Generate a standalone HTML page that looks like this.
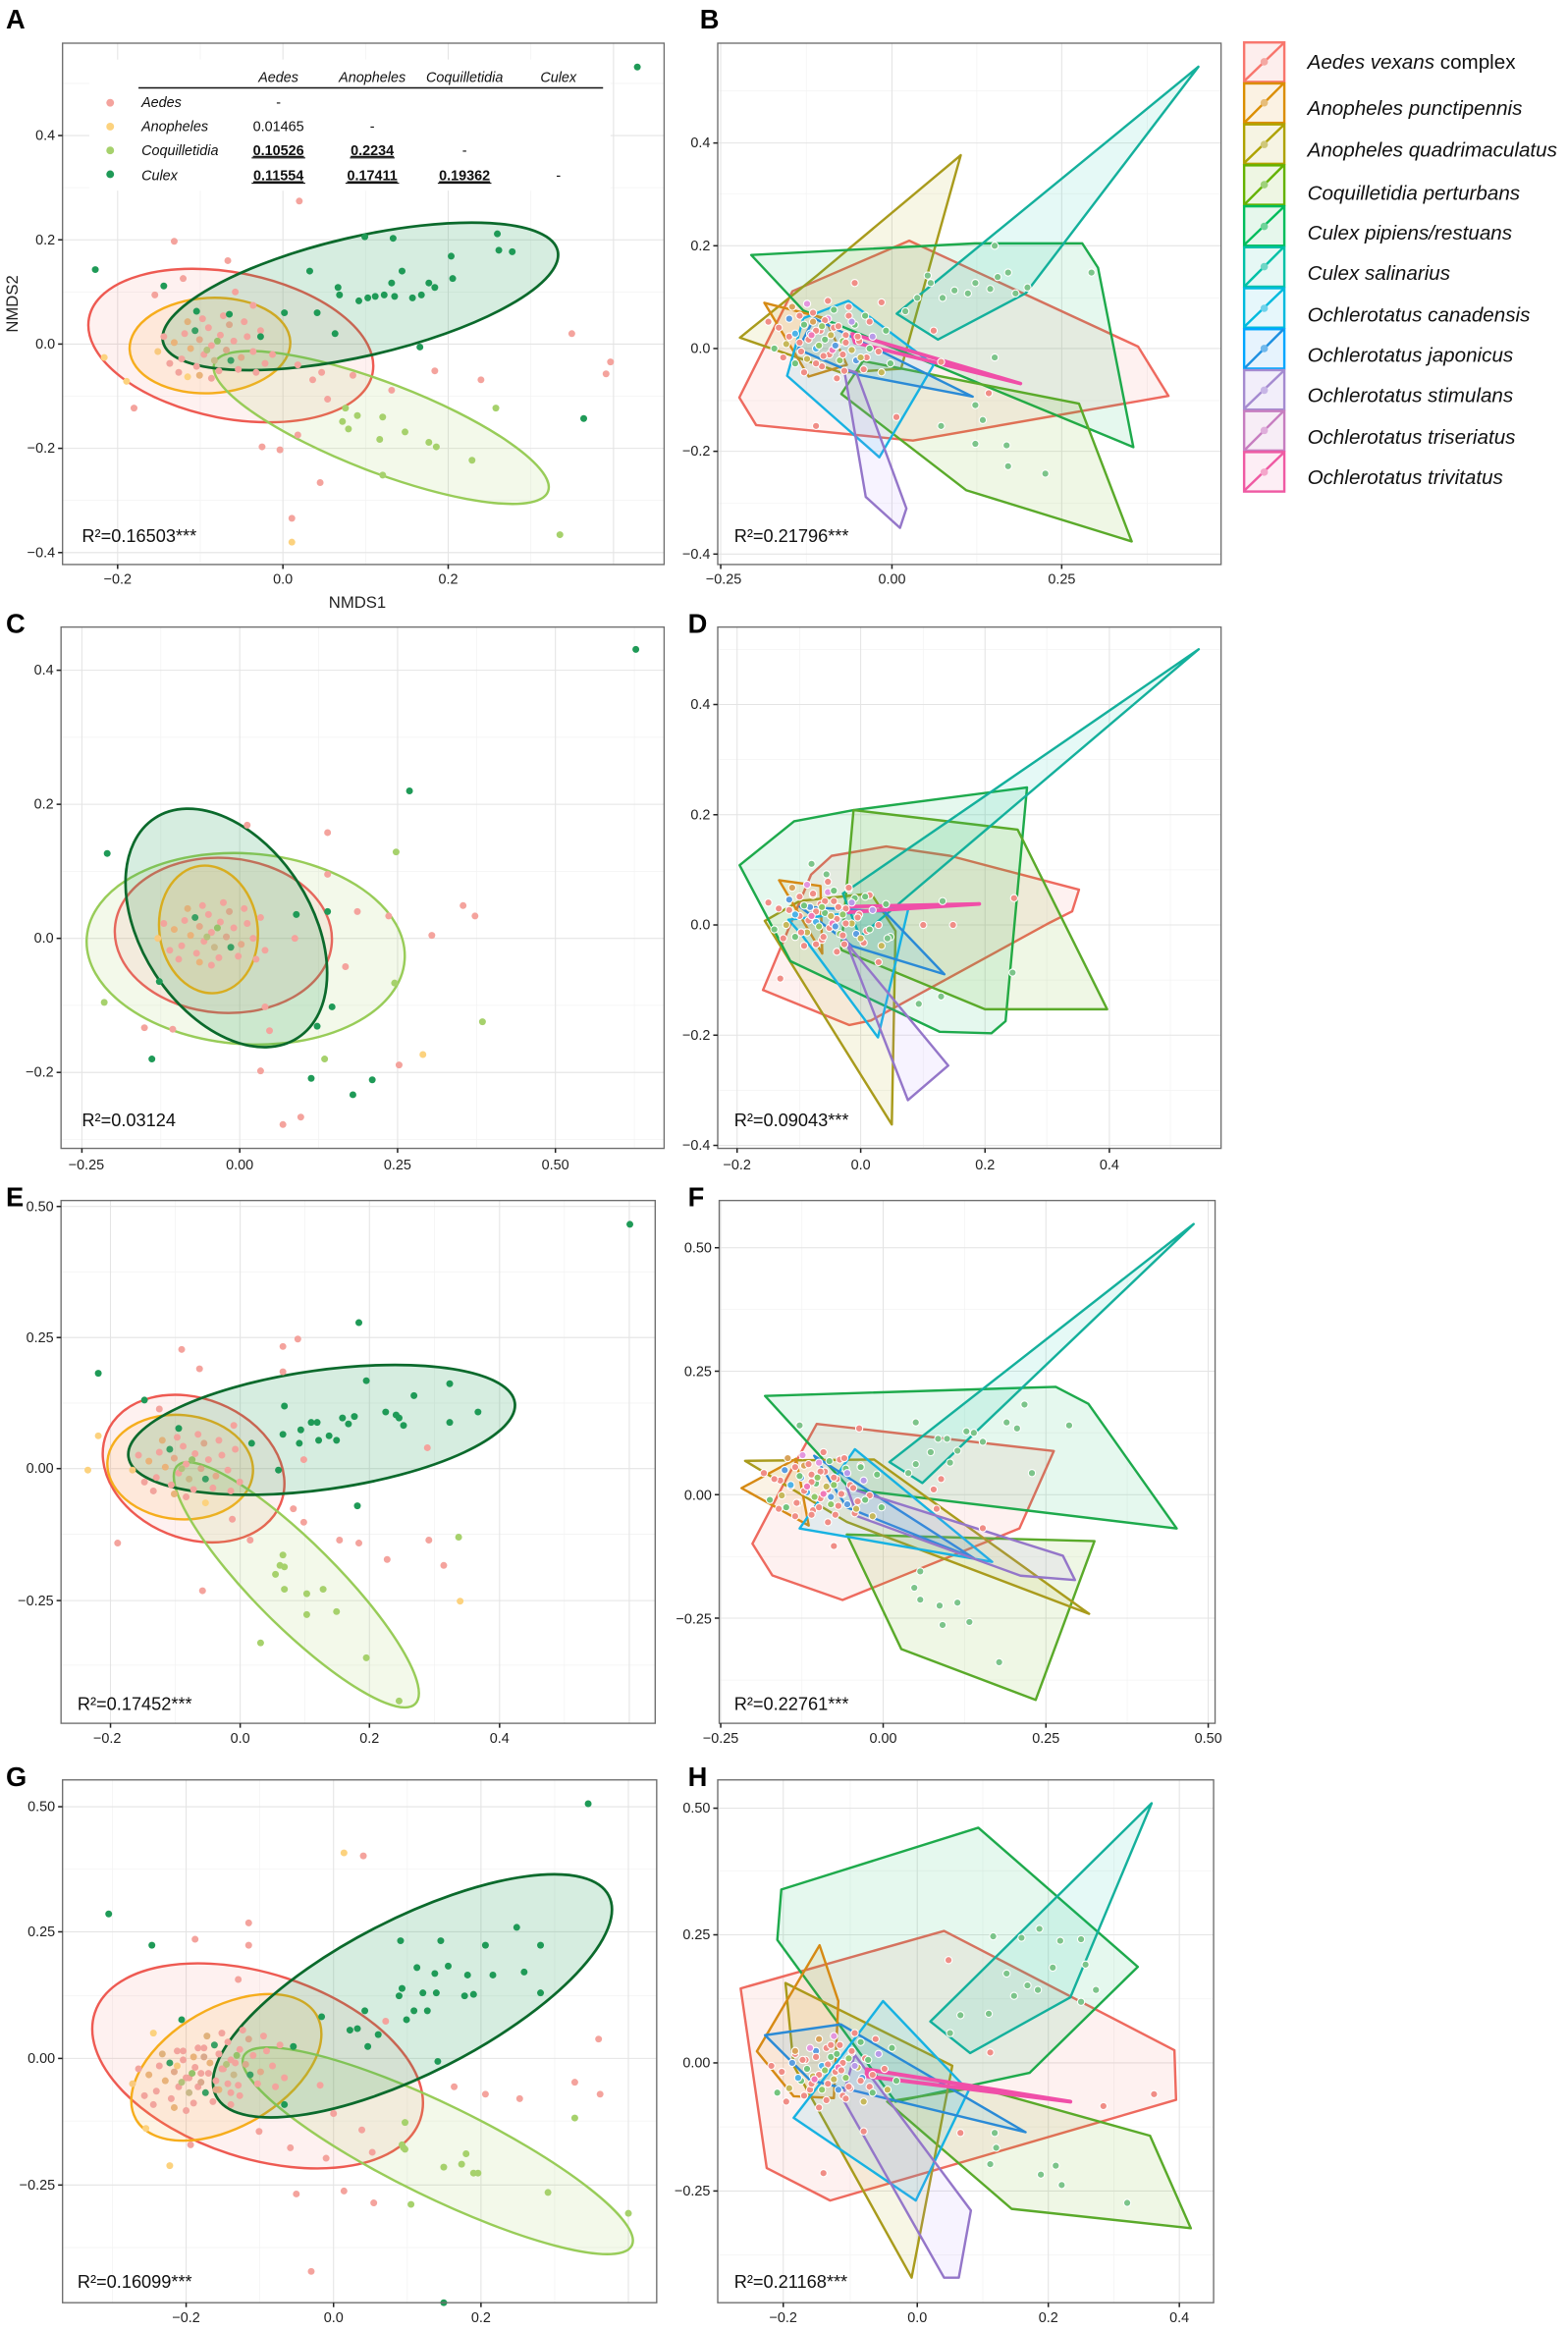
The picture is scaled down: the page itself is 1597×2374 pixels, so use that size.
<!DOCTYPE html>
<html><head><meta charset="utf-8"><style>
html,body{margin:0;padding:0;background:#fff}
svg{display:block}
text{font-family:"Liberation Sans",sans-serif}
.tk{font-size:9.5px;fill:#222}
.lab{font-size:18px;font-weight:bold;fill:#000}
.r2{font-size:12px;fill:#111}
.gM{stroke:#e4e4e4;stroke-width:0.7}
.gm{stroke:#f3f3f3;stroke-width:0.5}
.bx{fill:none;stroke:#6e6e6e;stroke-width:0.9}
.tc{stroke:#222;stroke-width:1}
.lg{font-size:13.6px;font-style:italic;fill:#111}
.hull{stroke-width:1.6;stroke-linejoin:round}
.tb{font-size:9.5px;fill:#111}
</style></head><body>
<svg width="1597" height="2374" viewBox="0 0 1053 1565" preserveAspectRatio="none" xmlns="http://www.w3.org/2000/svg">
<defs>
<g id="c1">
<circle cx="0" cy="0" r="2.3" fill="#f2a49d"/><circle cx="-8" cy="-4" r="2.3" fill="#e2aa8a"/><circle cx="6" cy="-7" r="2.3" fill="#f2a49d"/><circle cx="10" cy="3" r="2.3" fill="#d9a98c"/><circle cx="-5" cy="6" r="2.3" fill="#f2a49d"/><circle cx="-14" cy="2" r="2.3" fill="#e9b37a"/><circle cx="15" cy="-3" r="2.3" fill="#f2a49d"/><circle cx="2" cy="10" r="2.3" fill="#c9b98a"/><circle cx="-2" cy="-12" r="2.3" fill="#f2a49d"/><circle cx="-18" cy="-8" r="2.3" fill="#f2a49d"/><circle cx="20" cy="8" r="2.3" fill="#e2aa8a"/><circle cx="-20" cy="9" r="2.3" fill="#f2a49d"/><circle cx="12" cy="-14" r="2.3" fill="#d9a98c"/><circle cx="-10" cy="14" r="2.3" fill="#f2a49d"/><circle cx="24" cy="-6" r="2.3" fill="#f2a49d"/><circle cx="-25" cy="-2" r="2.3" fill="#e9b37a"/><circle cx="5" cy="17" r="2.3" fill="#f2a49d"/><circle cx="-6" cy="-18" r="2.3" fill="#f2a49d"/><circle cx="28" cy="4" r="2.3" fill="#f2a49d"/><circle cx="-28" cy="12" r="2.3" fill="#f2a49d"/><circle cx="18" cy="16" r="2.3" fill="#f2a49d"/><circle cx="-16" cy="-16" r="2.3" fill="#e0b27c"/><circle cx="8" cy="-20" r="2.3" fill="#f2a49d"/><circle cx="-32" cy="-6" r="2.3" fill="#f2a49d"/><circle cx="33" cy="-10" r="2.3" fill="#f2a49d"/><circle cx="-3" cy="3" r="2.3" fill="#b4c27c"/><circle cx="4" cy="-3" r="2.3" fill="#95c26a"/><circle cx="-11" cy="-10" r="2.3" fill="#3aa064"/><circle cx="13" cy="10" r="2.3" fill="#3aa064"/><circle cx="22" cy="-16" r="2.3" fill="#f2a49d"/><circle cx="-22" cy="18" r="2.3" fill="#f2a49d"/><circle cx="36" cy="12" r="2.3" fill="#f2a49d"/><circle cx="-36" cy="4" r="2.3" fill="#f8c97e"/><circle cx="0" cy="22" r="2.3" fill="#f2a49d"/><circle cx="-8" cy="20" r="2.3" fill="#e9b37a"/><circle cx="30" cy="18" r="2.3" fill="#f2a49d"/>
</g>
<g id="c2" stroke="#fff" stroke-width="0.7">
<circle cx="0" cy="0" r="2.4" fill="#f08d86"/><circle cx="-8" cy="-4" r="2.4" fill="#74c47e"/><circle cx="6" cy="-7" r="2.4" fill="#f08d86"/><circle cx="10" cy="3" r="2.4" fill="#c6b85a"/><circle cx="-5" cy="6" r="2.4" fill="#f08d86"/><circle cx="-14" cy="2" r="2.4" fill="#4fb3e8"/><circle cx="15" cy="-3" r="2.4" fill="#f08d86"/><circle cx="2" cy="10" r="2.4" fill="#8fc86a"/><circle cx="-2" cy="-12" r="2.4" fill="#f08d86"/><circle cx="-18" cy="-8" r="2.4" fill="#5c9ee0"/><circle cx="20" cy="8" r="2.4" fill="#f08d86"/><circle cx="-20" cy="9" r="2.4" fill="#c6b85a"/><circle cx="12" cy="-14" r="2.4" fill="#74c47e"/><circle cx="-10" cy="14" r="2.4" fill="#f08d86"/><circle cx="24" cy="-6" r="2.4" fill="#b89be8"/><circle cx="-25" cy="-2" r="2.4" fill="#f08d86"/><circle cx="5" cy="17" r="2.4" fill="#f08d86"/><circle cx="-6" cy="-18" r="2.4" fill="#e496de"/><circle cx="28" cy="4" r="2.4" fill="#f08d86"/><circle cx="-28" cy="12" r="2.4" fill="#74c47e"/><circle cx="18" cy="16" r="2.4" fill="#f08d86"/><circle cx="-16" cy="-16" r="2.4" fill="#d9a35a"/><circle cx="8" cy="-20" r="2.4" fill="#f08d86"/><circle cx="-32" cy="-6" r="2.4" fill="#f08d86"/><circle cx="33" cy="-10" r="2.4" fill="#74c47e"/><circle cx="-3" cy="3" r="2.4" fill="#f079b8"/><circle cx="4" cy="-3" r="2.4" fill="#8fc86a"/><circle cx="-11" cy="-10" r="2.4" fill="#f08d86"/><circle cx="13" cy="10" r="2.4" fill="#5c9ee0"/><circle cx="22" cy="-16" r="2.4" fill="#f08d86"/><circle cx="-22" cy="18" r="2.4" fill="#f08d86"/><circle cx="36" cy="12" r="2.4" fill="#74c47e"/><circle cx="0" cy="22" r="2.4" fill="#f08d86"/><circle cx="30" cy="18" r="2.4" fill="#c6b85a"/>
</g>
</defs>

<!-- ================= PANEL A ================= -->
<text class="lab" x="4" y="19">A</text>
<g>
<line class="gm" x1="134.5" y1="29" x2="134.5" y2="379"/><line class="gm" x1="245.5" y1="29" x2="245.5" y2="379"/><line class="gm" x1="356.5" y1="29" x2="356.5" y2="379"/>
<line class="gm" x1="42" y1="56" x2="446" y2="56"/><line class="gm" x1="42" y1="126" x2="446" y2="126"/><line class="gm" x1="42" y1="196" x2="446" y2="196"/><line class="gm" x1="42" y1="266" x2="446" y2="266"/><line class="gm" x1="42" y1="336" x2="446" y2="336"/>
<line class="gM" x1="79" y1="29" x2="79" y2="379"/><line class="gM" x1="190" y1="29" x2="190" y2="379"/><line class="gM" x1="301" y1="29" x2="301" y2="379"/><line class="gM" x1="412" y1="29" x2="412" y2="379"/>
<line class="gM" x1="42" y1="91" x2="446" y2="91"/><line class="gM" x1="42" y1="161" x2="446" y2="161"/><line class="gM" x1="42" y1="231" x2="446" y2="231"/><line class="gM" x1="42" y1="301" x2="446" y2="301"/><line class="gM" x1="42" y1="371" x2="446" y2="371"/>
</g>
<rect x="60" y="40" width="350" height="88" fill="#fff"/>
<ellipse cx="155" cy="232" rx="97" ry="49" transform="rotate(11 155 232)" fill="#f8766d" fill-opacity="0.1" stroke="#ee5a52" stroke-width="1.6"/>
<ellipse cx="141" cy="232" rx="54" ry="32" transform="rotate(-3 141 232)" fill="#fbb040" fill-opacity="0.12" stroke="#f6ad1c" stroke-width="1.6"/>
<ellipse cx="256" cy="287" rx="120" ry="30" transform="rotate(21 256 287)" fill="#9bd055" fill-opacity="0.12" stroke="#98cc58" stroke-width="1.6"/>
<ellipse cx="242" cy="199" rx="136" ry="40" transform="rotate(-13 242 199)" fill="#1e9a55" fill-opacity="0.18" stroke="#0b6a2c" stroke-width="1.8"/>
<use href="#c1" x="142" y="232"/>
<g fill="#f4a39d">
<circle cx="201" cy="135" r="2.3"/><circle cx="117" cy="162" r="2.3"/><circle cx="153" cy="175" r="2.3"/><circle cx="123" cy="187" r="2.3"/><circle cx="104" cy="198" r="2.3"/><circle cx="90" cy="274" r="2.3"/><circle cx="200" cy="245" r="2.3"/><circle cx="210" cy="255" r="2.3"/><circle cx="216" cy="250" r="2.3"/><circle cx="237" cy="252" r="2.3"/><circle cx="263" cy="262" r="2.3"/><circle cx="292" cy="249" r="2.3"/><circle cx="220" cy="268" r="2.3"/><circle cx="200" cy="292" r="2.3"/><circle cx="188" cy="302" r="2.3"/><circle cx="176" cy="300" r="2.3"/><circle cx="215" cy="324" r="2.3"/><circle cx="196" cy="348" r="2.3"/><circle cx="384" cy="224" r="2.3"/><circle cx="410" cy="243" r="2.3"/><circle cx="407" cy="251" r="2.3"/><circle cx="323" cy="255" r="2.3"/><circle cx="170" cy="205" r="2.3"/><circle cx="158" cy="196" r="2.3"/><circle cx="183" cy="238" r="2.3"/>
</g>
<g fill="#fcd27e"><circle cx="196" cy="364" r="2.3"/><circle cx="85" cy="256" r="2.3"/><circle cx="70" cy="240" r="2.3"/><circle cx="126" cy="253" r="2.3"/></g>
<g fill="#a6d16c"><circle cx="232" cy="274" r="2.3"/><circle cx="230" cy="283" r="2.3"/><circle cx="240" cy="279" r="2.3"/><circle cx="234" cy="288" r="2.3"/><circle cx="257" cy="280" r="2.3"/><circle cx="255" cy="295" r="2.3"/><circle cx="272" cy="290" r="2.3"/><circle cx="288" cy="297" r="2.3"/><circle cx="293" cy="300" r="2.3"/><circle cx="317" cy="309" r="2.3"/><circle cx="257" cy="319" r="2.3"/><circle cx="333" cy="274" r="2.3"/><circle cx="376" cy="359" r="2.3"/></g>
<g fill="#1f9a57"><circle cx="64" cy="181" r="2.3"/><circle cx="110" cy="192" r="2.3"/><circle cx="132" cy="209" r="2.3"/><circle cx="208" cy="182" r="2.3"/><circle cx="227" cy="193" r="2.3"/><circle cx="228" cy="198" r="2.3"/><circle cx="213" cy="210" r="2.3"/><circle cx="241" cy="202" r="2.3"/><circle cx="247" cy="200" r="2.3"/><circle cx="252" cy="199" r="2.3"/><circle cx="258" cy="198" r="2.3"/><circle cx="265" cy="199" r="2.3"/><circle cx="270" cy="182" r="2.3"/><circle cx="263" cy="190" r="2.3"/><circle cx="277" cy="200" r="2.3"/><circle cx="283" cy="198" r="2.3"/><circle cx="288" cy="190" r="2.3"/><circle cx="292" cy="193" r="2.3"/><circle cx="303" cy="172" r="2.3"/><circle cx="304" cy="187" r="2.3"/><circle cx="334" cy="157" r="2.3"/><circle cx="335" cy="168" r="2.3"/><circle cx="344" cy="169" r="2.3"/><circle cx="245" cy="159" r="2.3"/><circle cx="264" cy="160" r="2.3"/><circle cx="191" cy="210" r="2.3"/><circle cx="225" cy="224" r="2.3"/><circle cx="282" cy="233" r="2.3"/><circle cx="392" cy="281" r="2.3"/><circle cx="428" cy="45" r="2.3"/><circle cx="175" cy="226" r="2.3"/><circle cx="154" cy="211" r="2.3"/></g>
<!-- table legend -->
<line x1="93" y1="59" x2="405" y2="59" stroke="#111" stroke-width="1"/>
<g class="tb" font-style="italic" text-anchor="middle"><text x="187" y="55">Aedes</text><text x="250" y="55">Anopheles</text><text x="312" y="55">Coquilletidia</text><text x="375" y="55">Culex</text></g>
<circle cx="74" cy="69" r="2.6" fill="#f4a39d"/><circle cx="74" cy="85" r="2.6" fill="#fcd27e"/><circle cx="74" cy="101" r="2.6" fill="#a6d16c"/><circle cx="74" cy="117" r="2.6" fill="#1f9a57"/>
<g class="tb" font-style="italic"><text x="95" y="72">Aedes</text><text x="95" y="88">Anopheles</text><text x="95" y="104">Coquilletidia</text><text x="95" y="121">Culex</text></g>
<g class="tb" text-anchor="middle"><text x="187" y="72">-</text><text x="187" y="88">0.01465</text><text x="250" y="88">-</text><text x="312" y="104">-</text><text x="375" y="121">-</text>
<g font-weight="bold" text-decoration="underline"><text x="187" y="104">0.10526</text><text x="250" y="104">0.2234</text><text x="187" y="121">0.11554</text><text x="250" y="121">0.17411</text><text x="312" y="121">0.19362</text></g></g>
<g stroke="#111" stroke-width="0.7"><line x1="169" y1="106" x2="205" y2="106"/><line x1="235" y1="106" x2="265" y2="106"/><line x1="169" y1="123" x2="205" y2="123"/><line x1="232" y1="123" x2="268" y2="123"/><line x1="294" y1="123" x2="330" y2="123"/></g>
<text class="r2" x="55" y="364">R²=0.16503***</text>
<rect class="bx" x="42" y="29" width="404" height="350"/>
<g class="tc"><line x1="39" y1="91" x2="42" y2="91"/><line x1="39" y1="161" x2="42" y2="161"/><line x1="39" y1="231" x2="42" y2="231"/><line x1="39" y1="301" x2="42" y2="301"/><line x1="39" y1="371" x2="42" y2="371"/><line x1="79" y1="379" x2="79" y2="382"/><line x1="190" y1="379" x2="190" y2="382"/><line x1="301" y1="379" x2="301" y2="382"/></g>
<g class="tk" text-anchor="end"><text x="37" y="94">0.4</text><text x="37" y="164">0.2</text><text x="37" y="234">0.0</text><text x="37" y="304">−0.2</text><text x="37" y="374">−0.4</text></g>
<g class="tk" text-anchor="middle"><text x="79" y="392">−0.2</text><text x="190" y="392">0.0</text><text x="301" y="392">0.2</text></g>
<text x="240" y="408" font-size="11" text-anchor="middle" fill="#222">NMDS1</text>
<text x="12" y="204" font-size="11" text-anchor="middle" fill="#222" transform="rotate(-90 12 204)">NMDS2</text>

<!-- ================= PANEL B ================= -->
<text class="lab" x="470" y="19">B</text>
<g>
<line class="gm" x1="541.5" y1="29" x2="541.5" y2="379"/><line class="gm" x1="656" y1="29" x2="656" y2="379"/><line class="gm" x1="770.5" y1="29" x2="770.5" y2="379"/>
<line class="gm" x1="482" y1="61" x2="820" y2="61"/><line class="gm" x1="482" y1="130" x2="820" y2="130"/><line class="gm" x1="482" y1="200" x2="820" y2="200"/><line class="gm" x1="482" y1="269" x2="820" y2="269"/><line class="gm" x1="482" y1="338" x2="820" y2="338"/>
<line class="gM" x1="484" y1="29" x2="484" y2="379"/><line class="gM" x1="599" y1="29" x2="599" y2="379"/><line class="gM" x1="713" y1="29" x2="713" y2="379"/>
<line class="gM" x1="482" y1="96" x2="820" y2="96"/><line class="gM" x1="482" y1="165" x2="820" y2="165"/><line class="gM" x1="482" y1="234" x2="820" y2="234"/><line class="gM" x1="482" y1="303" x2="820" y2="303"/><line class="gM" x1="482" y1="372" x2="820" y2="372"/>
</g>
<g class="hull" fill-opacity="0.1">
<polygon points="610.6,161.6 764.3,232.7 784.7,265.8 613.1,295.8 507.8,285.4 496.5,266.9 532.2,195.5" fill="#f8766d" stroke="#ee6a5f"/>
<polygon points="645.2,104.2 605.1,247.6 565,250.2 496.9,226.7 548.6,185" fill="#aea200" stroke="#a99b1c"/>
<polygon points="504.5,171.2 654.7,163.4 726.8,163.4 737.4,179.8 761.1,300.2 539.5,208.5" fill="#00bd5c" stroke="#1eaa4c"/>
<polygon points="760,363.5 648.8,329.1 565,264.5 579.6,242.4 724.6,271" fill="#64b200" stroke="#5aaa2a"/>
<polygon points="804.8,44.8 688.9,196.8 629.9,228 602.2,210.6" fill="#00c1a7" stroke="#14b09c"/>
<polygon points="513.3,203.3 543.1,252.8 568.7,245 554.1,213.7" fill="#db8e00" stroke="#d68a14"/>
<polygon points="569.8,202 627,245 590.5,307 528.6,252.3 539.5,213.7" fill="#00bade" stroke="#17b2e2"/>
<polygon points="546.8,213.7 653.2,266.3 575.9,251.5 535.9,234.5" fill="#00a6ff" stroke="#2a8ad6"/>
<polygon points="566.8,247.6 581.4,333.6 604.4,354.4 608.7,341.4 575.2,250.2" fill="#b385ff" stroke="#9476c9"/>
<polygon points="572.3,224.1 685.3,257.5 574,230" fill="#ff63b6" stroke="#f04fa8" stroke-width="2.4"/>
</g>
<use href="#c2" x="562" y="232"/><use href="#c2" x="548" y="222"/>
<g fill="#7cc48a" stroke="#fff" stroke-width="0.7"><circle cx="616" cy="200" r="2.4"/><circle cx="633" cy="200" r="2.4"/><circle cx="641" cy="195" r="2.4"/><circle cx="650" cy="197" r="2.4"/><circle cx="655" cy="190" r="2.4"/><circle cx="665" cy="194" r="2.4"/><circle cx="670" cy="186" r="2.4"/><circle cx="677" cy="183" r="2.4"/><circle cx="682" cy="197" r="2.4"/><circle cx="625" cy="190" r="2.4"/><circle cx="608" cy="209" r="2.4"/><circle cx="655" cy="272" r="2.4"/><circle cx="660" cy="282" r="2.4"/><circle cx="632" cy="286" r="2.4"/><circle cx="655" cy="298" r="2.4"/><circle cx="676" cy="299" r="2.4"/><circle cx="677" cy="313" r="2.4"/><circle cx="702" cy="318" r="2.4"/><circle cx="690" cy="193" r="2.4"/><circle cx="668" cy="240" r="2.4"/><circle cx="623" cy="185" r="2.4"/><circle cx="733" cy="183" r="2.4"/><circle cx="668" cy="165" r="2.4"/></g>
<g fill="#f08d86" stroke="#fff" stroke-width="0.7"><circle cx="574" cy="190" r="2.4"/><circle cx="592" cy="203" r="2.4"/><circle cx="632" cy="243" r="2.4"/><circle cx="602" cy="280" r="2.4"/><circle cx="548" cy="286" r="2.4"/><circle cx="664" cy="264" r="2.4"/><circle cx="627" cy="222" r="2.4"/></g>
<text class="r2" x="493" y="364">R²=0.21796***</text>
<rect class="bx" x="482" y="29" width="338" height="350"/>
<g class="tc"><line x1="479" y1="96" x2="482" y2="96"/><line x1="479" y1="165" x2="482" y2="165"/><line x1="479" y1="234" x2="482" y2="234"/><line x1="479" y1="303" x2="482" y2="303"/><line x1="479" y1="372" x2="482" y2="372"/><line x1="484" y1="379" x2="484" y2="382"/><line x1="599" y1="379" x2="599" y2="382"/><line x1="713" y1="379" x2="713" y2="382"/></g>
<g class="tk" text-anchor="end"><text x="477" y="99">0.4</text><text x="477" y="168">0.2</text><text x="477" y="237">0.0</text><text x="477" y="306">−0.2</text><text x="477" y="375">−0.4</text></g>
<g class="tk" text-anchor="middle"><text x="486" y="392">−0.25</text><text x="599" y="392">0.00</text><text x="713" y="392">0.25</text></g>

<!-- legend -->
<g stroke-width="1.6">
<rect x="835.5" y="28.5" width="27" height="26.5" fill="#fdeeed" stroke="#f8766d"/><line x1="836" y1="54" x2="862" y2="29" stroke="#f8766d"/><circle cx="849" cy="41.5" r="2.5" fill="#f4a8a3"/>
<rect x="835.5" y="56" width="27" height="26.5" fill="#fbf2e3" stroke="#db8e00"/><line x1="836" y1="82" x2="862" y2="56" stroke="#db8e00"/><circle cx="849" cy="69" r="2.5" fill="#e6bd7a"/>
<rect x="835.5" y="83.5" width="27" height="26.5" fill="#f6f4e3" stroke="#aea200"/><line x1="836" y1="109" x2="862" y2="84" stroke="#aea200"/><circle cx="849" cy="97" r="2.5" fill="#cfc77a"/>
<rect x="835.5" y="111" width="27" height="26.5" fill="#eef6e3" stroke="#64b200"/><line x1="836" y1="137" x2="862" y2="111" stroke="#64b200"/><circle cx="849" cy="124" r="2.5" fill="#9fd17a"/>
<rect x="835.5" y="138.5" width="27" height="26.5" fill="#e6f7ec" stroke="#00bd5c"/><line x1="836" y1="164" x2="862" y2="139" stroke="#00bd5c"/><circle cx="849" cy="152" r="2.5" fill="#6fd399"/>
<rect x="835.5" y="166" width="27" height="26.5" fill="#e6f8f5" stroke="#00c1a7"/><line x1="836" y1="192" x2="862" y2="166" stroke="#00c1a7"/><circle cx="849" cy="179" r="2.5" fill="#6fd6c6"/>
<rect x="835.5" y="193.5" width="27" height="26.5" fill="#e6f7fb" stroke="#00bade"/><line x1="836" y1="219" x2="862" y2="194" stroke="#00bade"/><circle cx="849" cy="207" r="2.5" fill="#6fd2eb"/>
<rect x="835.5" y="221" width="27" height="26.5" fill="#e6f3fd" stroke="#00a6ff"/><line x1="836" y1="247" x2="862" y2="221" stroke="#1d8fe0"/><circle cx="849" cy="234" r="2.5" fill="#6fb8ec"/>
<rect x="835.5" y="248.5" width="27" height="26.5" fill="#f2eefa" stroke="#a58bd0"/><line x1="836" y1="274" x2="862" y2="249" stroke="#a58bd0"/><circle cx="849" cy="262" r="2.5" fill="#c7b5e6"/>
<rect x="835.5" y="276" width="27" height="26.5" fill="#f7edf6" stroke="#c77ec0"/><line x1="836" y1="302" x2="862" y2="276" stroke="#c77ec0"/><circle cx="849" cy="289" r="2.5" fill="#dfaedb"/>
<rect x="835.5" y="303.5" width="27" height="26.5" fill="#fdeef5" stroke="#ef5aa3"/><line x1="836" y1="329" x2="862" y2="304" stroke="#ef5aa3"/><circle cx="849" cy="317" r="2.5" fill="#f4a7cb"/>
</g>
<g class="lg">
<text x="878" y="46">Aedes vexans <tspan font-style="normal">complex</tspan></text>
<text x="878" y="77">Anopheles punctipennis</text>
<text x="878" y="105">Anopheles quadrimaculatus</text>
<text x="878" y="134">Coquilletidia perturbans</text>
<text x="878" y="161">Culex pipiens/restuans</text>
<text x="878" y="188">Culex salinarius</text>
<text x="878" y="216">Ochlerotatus canadensis</text>
<text x="878" y="243">Ochlerotatus japonicus</text>
<text x="878" y="270">Ochlerotatus stimulans</text>
<text x="878" y="298">Ochlerotatus triseriatus</text>
<text x="878" y="325">Ochlerotatus trivitatus</text>
</g>

<!-- ================= PANEL C ================= -->
<text class="lab" x="4" y="425">C</text>
<g>
<line class="gm" x1="108" y1="421" x2="108" y2="771"/><line class="gm" x1="214" y1="421" x2="214" y2="771"/><line class="gm" x1="320" y1="421" x2="320" y2="771"/><line class="gm" x1="426" y1="421" x2="426" y2="771"/>
<line class="gm" x1="41" y1="495" x2="446" y2="495"/><line class="gm" x1="41" y1="585" x2="446" y2="585"/><line class="gm" x1="41" y1="675" x2="446" y2="675"/><line class="gm" x1="41" y1="765" x2="446" y2="765"/>
<line class="gM" x1="55" y1="421" x2="55" y2="771"/><line class="gM" x1="161" y1="421" x2="161" y2="771"/><line class="gM" x1="267" y1="421" x2="267" y2="771"/><line class="gM" x1="373" y1="421" x2="373" y2="771"/>
<line class="gM" x1="41" y1="450" x2="446" y2="450"/><line class="gM" x1="41" y1="540" x2="446" y2="540"/><line class="gM" x1="41" y1="630" x2="446" y2="630"/><line class="gM" x1="41" y1="720" x2="446" y2="720"/>
</g>
<ellipse cx="165" cy="637" rx="107" ry="64" transform="rotate(4 165 637)" fill="#9bd055" fill-opacity="0.12" stroke="#98cc58" stroke-width="1.6"/>
<ellipse cx="150" cy="628" rx="73" ry="52" transform="rotate(4 150 628)" fill="#f8766d" fill-opacity="0.1" stroke="#e6675c" stroke-width="1.6"/>
<ellipse cx="152" cy="623" rx="88" ry="57" transform="rotate(57 152 623)" fill="#1e9a55" fill-opacity="0.18" stroke="#0b6a2c" stroke-width="1.8"/>
<ellipse cx="140" cy="624" rx="33" ry="43" transform="rotate(-8 140 624)" fill="#fbb040" fill-opacity="0.12" stroke="#d8ad20" stroke-width="1.6"/>
<use href="#c1" x="142" y="626"/>
<g fill="#f4a39d"><circle cx="166" cy="554" r="2.3"/><circle cx="220" cy="559" r="2.3"/><circle cx="220" cy="587" r="2.3"/><circle cx="240" cy="612" r="2.3"/><circle cx="261" cy="615" r="2.3"/><circle cx="311" cy="608" r="2.3"/><circle cx="319" cy="615" r="2.3"/><circle cx="290" cy="628" r="2.3"/><circle cx="232" cy="649" r="2.3"/><circle cx="97" cy="690" r="2.3"/><circle cx="116" cy="691" r="2.3"/><circle cx="181" cy="692" r="2.3"/><circle cx="268" cy="715" r="2.3"/><circle cx="175" cy="719" r="2.3"/><circle cx="202" cy="750" r="2.3"/><circle cx="190" cy="755" r="2.3"/><circle cx="178" cy="676" r="2.3"/><circle cx="198" cy="630" r="2.3"/></g>
<g fill="#a6d16c"><circle cx="266" cy="572" r="2.3"/><circle cx="265" cy="660" r="2.3"/><circle cx="218" cy="711" r="2.3"/><circle cx="324" cy="686" r="2.3"/><circle cx="70" cy="673" r="2.3"/></g>
<g fill="#fcd27e"><circle cx="284" cy="708" r="2.3"/></g>
<g fill="#1f9a57"><circle cx="72" cy="573" r="2.3"/><circle cx="275" cy="531" r="2.3"/><circle cx="427" cy="436" r="2.3"/><circle cx="102" cy="711" r="2.3"/><circle cx="209" cy="724" r="2.3"/><circle cx="237" cy="735" r="2.3"/><circle cx="250" cy="725" r="2.3"/><circle cx="213" cy="689" r="2.3"/><circle cx="223" cy="676" r="2.3"/><circle cx="220" cy="612" r="2.3"/><circle cx="199" cy="614" r="2.3"/><circle cx="107" cy="659" r="2.3"/></g>
<text class="r2" x="55" y="756">R²=0.03124</text>
<rect class="bx" x="41" y="421" width="405" height="350"/>
<g class="tc"><line x1="38" y1="450" x2="41" y2="450"/><line x1="38" y1="540" x2="41" y2="540"/><line x1="38" y1="630" x2="41" y2="630"/><line x1="38" y1="720" x2="41" y2="720"/><line x1="55" y1="771" x2="55" y2="774"/><line x1="161" y1="771" x2="161" y2="774"/><line x1="267" y1="771" x2="267" y2="774"/><line x1="373" y1="771" x2="373" y2="774"/></g>
<g class="tk" text-anchor="end"><text x="36" y="453">0.4</text><text x="36" y="543">0.2</text><text x="36" y="633">0.0</text><text x="36" y="723">−0.2</text></g>
<g class="tk" text-anchor="middle"><text x="58" y="785">−0.25</text><text x="161" y="785">0.00</text><text x="267" y="785">0.25</text><text x="373" y="785">0.50</text></g>

<!-- ================= PANEL D ================= -->
<text class="lab" x="462" y="425">D</text>
<g>
<line class="gm" x1="537" y1="421" x2="537" y2="771"/><line class="gm" x1="620" y1="421" x2="620" y2="771"/><line class="gm" x1="703" y1="421" x2="703" y2="771"/><line class="gm" x1="786" y1="421" x2="786" y2="771"/>
<line class="gm" x1="482" y1="436" x2="820" y2="436"/><line class="gm" x1="482" y1="510" x2="820" y2="510"/><line class="gm" x1="482" y1="584" x2="820" y2="584"/><line class="gm" x1="482" y1="658" x2="820" y2="658"/><line class="gm" x1="482" y1="732" x2="820" y2="732"/>
<line class="gM" x1="495" y1="421" x2="495" y2="771"/><line class="gM" x1="578" y1="421" x2="578" y2="771"/><line class="gM" x1="661.5" y1="421" x2="661.5" y2="771"/><line class="gM" x1="745" y1="421" x2="745" y2="771"/>
<line class="gM" x1="482" y1="473" x2="820" y2="473"/><line class="gM" x1="482" y1="547" x2="820" y2="547"/><line class="gM" x1="482" y1="621" x2="820" y2="621"/><line class="gM" x1="482" y1="695" x2="820" y2="695"/><line class="gM" x1="482" y1="769" x2="820" y2="769"/>
</g>
<g class="hull" fill-opacity="0.1">
<polygon points="558.5,574.6 595.1,568.3 638,574.6 724.6,597.3 720,611.9 704.9,619.5 585,685.1 570.4,688.2 512.4,664.7 544.7,587.2" fill="#f8766d" stroke="#ee6a5f"/>
<polygon points="513.6,618.3 537.1,604.9 585,599.9 601.4,625.1 598.9,755" fill="#aea200" stroke="#a99b1c"/>
<polygon points="496.7,580.9 533.3,551.4 573.2,543.9 689.7,528.7 675.3,685.6 665.8,693.7 631,692.7 530.8,645.3" fill="#00bd5c" stroke="#1eaa4c"/>
<polygon points="573.2,543.9 683.4,557 743.5,677.6 661.5,677.6 564.8,637.7" fill="#64b200" stroke="#5aaa2a"/>
<polygon points="805,435.9 566.1,599.9 577.5,628.9" fill="#00c1a7" stroke="#14b09c"/>
<polygon points="523.2,591 551,594.8 552.2,640.2" fill="#db8e00" stroke="#d68a14"/>
<polygon points="529.5,617.5 610.3,608.7 589.6,696.5 538.4,627.6" fill="#00bade" stroke="#17b2e2"/>
<polygon points="537.1,608.7 593.9,612 634.2,654.1 572.4,635.2" fill="#00a6ff" stroke="#2a8ad6"/>
<polygon points="572.4,637.7 636.8,715.4 609.7,738.6 567.4,630.1" fill="#b385ff" stroke="#9476c9"/>
<polygon points="569.9,608.7 657.7,606.9 569.9,612.5" fill="#ff63b6" stroke="#f04fa8" stroke-width="2.4"/>
</g>
<use href="#c2" x="562" y="617"/><use href="#c2" x="548" y="612"/>
<g fill="#f08d86" stroke="#fff" stroke-width="0.7"><circle cx="640" cy="621" r="2.4"/><circle cx="620" cy="621" r="2.4"/><circle cx="681" cy="603" r="2.4"/><circle cx="524" cy="657" r="2.4"/><circle cx="590" cy="646" r="2.4"/></g>
<g fill="#7cc48a" stroke="#fff" stroke-width="0.7"><circle cx="545" cy="580" r="2.4"/><circle cx="555" cy="587" r="2.4"/><circle cx="596" cy="630" r="2.4"/><circle cx="632" cy="669" r="2.4"/><circle cx="617" cy="674" r="2.4"/><circle cx="680" cy="653" r="2.4"/><circle cx="633" cy="605" r="2.4"/></g>
<text class="r2" x="493" y="756">R²=0.09043***</text>
<rect class="bx" x="482" y="421" width="338" height="350"/>
<g class="tc"><line x1="479" y1="473" x2="482" y2="473"/><line x1="479" y1="547" x2="482" y2="547"/><line x1="479" y1="621" x2="482" y2="621"/><line x1="479" y1="695" x2="482" y2="695"/><line x1="479" y1="769" x2="482" y2="769"/><line x1="495" y1="771" x2="495" y2="774"/><line x1="578" y1="771" x2="578" y2="774"/><line x1="661.5" y1="771" x2="661.5" y2="774"/><line x1="745" y1="771" x2="745" y2="774"/></g>
<g class="tk" text-anchor="end"><text x="477" y="476">0.4</text><text x="477" y="550">0.2</text><text x="477" y="624">0.0</text><text x="477" y="698">−0.2</text><text x="477" y="772">−0.4</text></g>
<g class="tk" text-anchor="middle"><text x="495" y="785">−0.2</text><text x="578" y="785">0.0</text><text x="661.5" y="785">0.2</text><text x="745" y="785">0.4</text></g>

<!-- ================= PANEL E ================= -->
<text class="lab" x="4" y="810">E</text>
<g>
<line class="gm" x1="117.7" y1="806" x2="117.7" y2="1157"/><line class="gm" x1="204.7" y1="806" x2="204.7" y2="1157"/><line class="gm" x1="291.8" y1="806" x2="291.8" y2="1157"/><line class="gm" x1="379" y1="806" x2="379" y2="1157"/>
<line class="gm" x1="41" y1="854" x2="440" y2="854"/><line class="gm" x1="41" y1="942" x2="440" y2="942"/><line class="gm" x1="41" y1="1030" x2="440" y2="1030"/><line class="gm" x1="41" y1="1118" x2="440" y2="1118"/>
<line class="gM" x1="74.2" y1="806" x2="74.2" y2="1157"/><line class="gM" x1="161.3" y1="806" x2="161.3" y2="1157"/><line class="gM" x1="248.1" y1="806" x2="248.1" y2="1157"/><line class="gM" x1="335.5" y1="806" x2="335.5" y2="1157"/><line class="gM" x1="422.6" y1="806" x2="422.6" y2="1157"/>
<line class="gM" x1="41" y1="810" x2="440" y2="810"/><line class="gM" x1="41" y1="898" x2="440" y2="898"/><line class="gM" x1="41" y1="986" x2="440" y2="986"/><line class="gM" x1="41" y1="1074.6" x2="440" y2="1074.6"/>
</g>
<ellipse cx="130" cy="986" rx="63" ry="47" transform="rotate(22 130 986)" fill="#f8766d" fill-opacity="0.1" stroke="#ee5a52" stroke-width="1.6"/>
<ellipse cx="121" cy="985" rx="49" ry="35" transform="rotate(5 121 985)" fill="#fbb040" fill-opacity="0.12" stroke="#f6ad1c" stroke-width="1.6"/>
<ellipse cx="199" cy="1064" rx="113" ry="28" transform="rotate(45 199 1064)" fill="#9bd055" fill-opacity="0.12" stroke="#98cc58" stroke-width="1.6"/>
<ellipse cx="216" cy="960" rx="131" ry="40" transform="rotate(-8 216 960)" fill="#1e9a55" fill-opacity="0.18" stroke="#0b6a2c" stroke-width="1.8"/>
<use href="#c1" x="125" y="983"/>
<g fill="#f4a39d"><circle cx="122" cy="906" r="2.3"/><circle cx="134" cy="919" r="2.3"/><circle cx="190" cy="904" r="2.3"/><circle cx="200" cy="899" r="2.3"/><circle cx="190" cy="921" r="2.3"/><circle cx="107" cy="946" r="2.3"/><circle cx="157" cy="957" r="2.3"/><circle cx="204" cy="1022" r="2.3"/><circle cx="197" cy="1013" r="2.3"/><circle cx="168" cy="1034" r="2.3"/><circle cx="79" cy="1036" r="2.3"/><circle cx="228" cy="1034" r="2.3"/><circle cx="241" cy="1036" r="2.3"/><circle cx="260" cy="1047" r="2.3"/><circle cx="288" cy="1034" r="2.3"/><circle cx="298" cy="1051" r="2.3"/><circle cx="136" cy="1068" r="2.3"/><circle cx="287" cy="972" r="2.3"/><circle cx="204" cy="980" r="2.3"/><circle cx="156" cy="1020" r="2.3"/></g>
<g fill="#fcd27e"><circle cx="59" cy="987" r="2.3"/><circle cx="66" cy="964" r="2.3"/><circle cx="309" cy="1075" r="2.3"/><circle cx="138" cy="1009" r="2.3"/></g>
<g fill="#a6d16c"><circle cx="190" cy="1044" r="2.3"/><circle cx="188" cy="1051" r="2.3"/><circle cx="191" cy="1052" r="2.3"/><circle cx="185" cy="1057" r="2.3"/><circle cx="191" cy="1067" r="2.3"/><circle cx="206" cy="1070" r="2.3"/><circle cx="217" cy="1067" r="2.3"/><circle cx="206" cy="1084" r="2.3"/><circle cx="226" cy="1082" r="2.3"/><circle cx="175" cy="1103" r="2.3"/><circle cx="246" cy="1113" r="2.3"/><circle cx="308" cy="1032" r="2.3"/><circle cx="268" cy="1142" r="2.3"/></g>
<g fill="#1f9a57"><circle cx="66" cy="922" r="2.3"/><circle cx="97" cy="940" r="2.3"/><circle cx="120" cy="959" r="2.3"/><circle cx="169" cy="969" r="2.3"/><circle cx="191" cy="944" r="2.3"/><circle cx="190" cy="963" r="2.3"/><circle cx="201" cy="969" r="2.3"/><circle cx="202" cy="960" r="2.3"/><circle cx="209" cy="955" r="2.3"/><circle cx="213" cy="955" r="2.3"/><circle cx="214" cy="967" r="2.3"/><circle cx="221" cy="964" r="2.3"/><circle cx="226" cy="967" r="2.3"/><circle cx="230" cy="952" r="2.3"/><circle cx="234" cy="956" r="2.3"/><circle cx="238" cy="951" r="2.3"/><circle cx="246" cy="927" r="2.3"/><circle cx="259" cy="948" r="2.3"/><circle cx="266" cy="950" r="2.3"/><circle cx="268" cy="952" r="2.3"/><circle cx="271" cy="957" r="2.3"/><circle cx="278" cy="937" r="2.3"/><circle cx="302" cy="929" r="2.3"/><circle cx="302" cy="955" r="2.3"/><circle cx="321" cy="948" r="2.3"/><circle cx="241" cy="888" r="2.3"/><circle cx="423" cy="822" r="2.3"/><circle cx="240" cy="1011" r="2.3"/><circle cx="187" cy="987" r="2.3"/></g>
<text class="r2" x="52" y="1148">R²=0.17452***</text>
<rect class="bx" x="41" y="806" width="399" height="351"/>
<g class="tc"><line x1="38" y1="810" x2="41" y2="810"/><line x1="38" y1="898" x2="41" y2="898"/><line x1="38" y1="986" x2="41" y2="986"/><line x1="38" y1="1074.6" x2="41" y2="1074.6"/><line x1="74.2" y1="1157" x2="74.2" y2="1160"/><line x1="161.3" y1="1157" x2="161.3" y2="1160"/><line x1="248.1" y1="1157" x2="248.1" y2="1160"/><line x1="335.5" y1="1157" x2="335.5" y2="1160"/></g>
<g class="tk" text-anchor="end"><text x="36" y="813">0.50</text><text x="36" y="901">0.25</text><text x="36" y="989">0.00</text><text x="36" y="1078">−0.25</text></g>
<g class="tk" text-anchor="middle"><text x="72" y="1170">−0.2</text><text x="161.3" y="1170">0.0</text><text x="248.1" y="1170">0.2</text><text x="335.5" y="1170">0.4</text></g>

<!-- ================= PANEL F ================= -->
<text class="lab" x="462" y="810">F</text>
<g>
<line class="gm" x1="538.5" y1="806" x2="538.5" y2="1157"/><line class="gm" x1="647.7" y1="806" x2="647.7" y2="1157"/><line class="gm" x1="757" y1="806" x2="757" y2="1157"/>
<line class="gm" x1="483" y1="879" x2="816" y2="879"/><line class="gm" x1="483" y1="962" x2="816" y2="962"/><line class="gm" x1="483" y1="1045" x2="816" y2="1045"/><line class="gm" x1="483" y1="1128" x2="816" y2="1128"/>
<line class="gM" x1="484" y1="806" x2="484" y2="1157"/><line class="gM" x1="593.1" y1="806" x2="593.1" y2="1157"/><line class="gM" x1="702.4" y1="806" x2="702.4" y2="1157"/><line class="gM" x1="811.4" y1="806" x2="811.4" y2="1157"/>
<line class="gM" x1="483" y1="837.7" x2="816" y2="837.7"/><line class="gM" x1="483" y1="920.6" x2="816" y2="920.6"/><line class="gM" x1="483" y1="1003.5" x2="816" y2="1003.5"/><line class="gM" x1="483" y1="1086.4" x2="816" y2="1086.4"/>
</g>
<g class="hull" fill-opacity="0.1">
<polygon points="548.5,956 707.7,974.2 684.6,1026.2 565.8,1074.2 518.7,1057.7 505.3,1036.4 527.3,994.5" fill="#f8766d" stroke="#ee6a5f"/>
<polygon points="513.8,937.2 709,931.1 730.9,942.5 790.2,1026.2 571.2,999.9" fill="#00bd5c" stroke="#1eaa4c"/>
<polygon points="568.7,1030.3 735,1034.7 695.5,1141.3 605.3,1107.2" fill="#64b200" stroke="#5aaa2a"/>
<polygon points="500.4,980.8 587,979.9 731.4,1083.5 568.7,1021.8" fill="#aea200" stroke="#a99b1c"/>
<polygon points="801.6,821.8 619.4,995.7 597.3,981.6" fill="#00c1a7" stroke="#14b09c"/>
<polygon points="498,999.1 534.6,979.4 543.1,1024.2" fill="#db8e00" stroke="#d68a14"/>
<polygon points="574.1,973 666.3,1048.6 537,1026.2" fill="#00bade" stroke="#17b2e2"/>
<polygon points="546.8,977.4 654.1,1046.2 568.7,1012" fill="#00a6ff" stroke="#2a8ad6"/>
<polygon points="568.7,998.6 713.8,1044.5 721.9,1060.8 685.3,1057.9 576,1018.1" fill="#b385ff" stroke="#9476c9"/>
</g>
<use href="#c2" x="556" y="1000"/><use href="#c2" x="545" y="995"/>
<g fill="#7cc48a" stroke="#fff" stroke-width="0.7"><circle cx="615" cy="955" r="2.4"/><circle cx="615" cy="983" r="2.4"/><circle cx="610" cy="989" r="2.4"/><circle cx="625" cy="975" r="2.4"/><circle cx="630" cy="966" r="2.4"/><circle cx="636" cy="966" r="2.4"/><circle cx="638" cy="982" r="2.4"/><circle cx="643" cy="974" r="2.4"/><circle cx="649" cy="961" r="2.4"/><circle cx="654" cy="962" r="2.4"/><circle cx="660" cy="968" r="2.4"/><circle cx="676" cy="955" r="2.4"/><circle cx="683" cy="959" r="2.4"/><circle cx="688" cy="943" r="2.4"/><circle cx="693" cy="989" r="2.4"/><circle cx="718" cy="957" r="2.4"/><circle cx="537" cy="957" r="2.4"/><circle cx="618" cy="1055" r="2.4"/><circle cx="614" cy="1066" r="2.4"/><circle cx="618" cy="1074" r="2.4"/><circle cx="631" cy="1078" r="2.4"/><circle cx="643" cy="1076" r="2.4"/><circle cx="633" cy="1091" r="2.4"/><circle cx="651" cy="1089" r="2.4"/><circle cx="671" cy="1116" r="2.4"/></g>
<g fill="#f08d86" stroke="#fff" stroke-width="0.7"><circle cx="577" cy="959" r="2.4"/><circle cx="632" cy="993" r="2.4"/><circle cx="629" cy="1013" r="2.4"/><circle cx="660" cy="1026" r="2.4"/><circle cx="560" cy="1038" r="2.4"/><circle cx="627" cy="1000" r="2.4"/></g>
<text class="r2" x="493" y="1148">R²=0.22761***</text>
<rect class="bx" x="483" y="806" width="333" height="351"/>
<g class="tc"><line x1="480" y1="837.7" x2="483" y2="837.7"/><line x1="480" y1="920.6" x2="483" y2="920.6"/><line x1="480" y1="1003.5" x2="483" y2="1003.5"/><line x1="480" y1="1086.4" x2="483" y2="1086.4"/><line x1="484" y1="1157" x2="484" y2="1160"/><line x1="593.1" y1="1157" x2="593.1" y2="1160"/><line x1="702.4" y1="1157" x2="702.4" y2="1160"/><line x1="811.4" y1="1157" x2="811.4" y2="1160"/></g>
<g class="tk" text-anchor="end"><text x="478" y="841">0.50</text><text x="478" y="924">0.25</text><text x="478" y="1007">0.00</text><text x="478" y="1090">−0.25</text></g>
<g class="tk" text-anchor="middle"><text x="484" y="1170">−0.25</text><text x="593.1" y="1170">0.00</text><text x="702.4" y="1170">0.25</text><text x="811.4" y="1170">0.50</text></g>

<!-- ================= PANEL G ================= -->
<text class="lab" x="4" y="1199">G</text>
<g>
<line class="gm" x1="75.5" y1="1195" x2="75.5" y2="1546"/><line class="gm" x1="174.5" y1="1195" x2="174.5" y2="1546"/><line class="gm" x1="273.5" y1="1195" x2="273.5" y2="1546"/><line class="gm" x1="372.5" y1="1195" x2="372.5" y2="1546"/>
<line class="gm" x1="42" y1="1255" x2="441" y2="1255"/><line class="gm" x1="42" y1="1340" x2="441" y2="1340"/><line class="gm" x1="42" y1="1424" x2="441" y2="1424"/><line class="gm" x1="42" y1="1509" x2="441" y2="1509"/>
<line class="gM" x1="125" y1="1195" x2="125" y2="1546"/><line class="gM" x1="224" y1="1195" x2="224" y2="1546"/><line class="gM" x1="323" y1="1195" x2="323" y2="1546"/><line class="gM" x1="422" y1="1195" x2="422" y2="1546"/>
<line class="gM" x1="42" y1="1213" x2="441" y2="1213"/><line class="gM" x1="42" y1="1297" x2="441" y2="1297"/><line class="gM" x1="42" y1="1382" x2="441" y2="1382"/><line class="gM" x1="42" y1="1467" x2="441" y2="1467"/>
</g>
<ellipse cx="173" cy="1387" rx="115" ry="62" transform="rotate(18 173 1387)" fill="#f8766d" fill-opacity="0.1" stroke="#ee5a52" stroke-width="1.6"/>
<ellipse cx="152" cy="1388" rx="70" ry="40" transform="rotate(-30 152 1388)" fill="#fbb040" fill-opacity="0.14" stroke="#f6ad1c" stroke-width="1.6"/>
<ellipse cx="294" cy="1444" rx="145" ry="31" transform="rotate(26 294 1444)" fill="#9bd055" fill-opacity="0.12" stroke="#98cc58" stroke-width="1.6"/>
<ellipse cx="277" cy="1340" rx="148" ry="52" transform="rotate(-27 277 1340)" fill="#1e9a55" fill-opacity="0.18" stroke="#0b6a2c" stroke-width="1.8"/>
<use href="#c1" x="155" y="1383"/><use href="#c1" x="125" y="1395"/>
<g fill="#f4a39d"><circle cx="167" cy="1291" r="2.3"/><circle cx="167" cy="1306" r="2.3"/><circle cx="131" cy="1302" r="2.3"/><circle cx="160" cy="1329" r="2.3"/><circle cx="244" cy="1246" r="2.3"/><circle cx="259" cy="1357" r="2.3"/><circle cx="215" cy="1400" r="2.3"/><circle cx="224" cy="1419" r="2.3"/><circle cx="243" cy="1430" r="2.3"/><circle cx="250" cy="1445" r="2.3"/><circle cx="219" cy="1449" r="2.3"/><circle cx="199" cy="1473" r="2.3"/><circle cx="231" cy="1471" r="2.3"/><circle cx="251" cy="1479" r="2.3"/><circle cx="305" cy="1401" r="2.3"/><circle cx="326" cy="1406" r="2.3"/><circle cx="349" cy="1409" r="2.3"/><circle cx="386" cy="1398" r="2.3"/><circle cx="402" cy="1369" r="2.3"/><circle cx="403" cy="1406" r="2.3"/><circle cx="209" cy="1525" r="2.3"/><circle cx="128" cy="1440" r="2.3"/><circle cx="174" cy="1431" r="2.3"/><circle cx="195" cy="1442" r="2.3"/></g>
<g fill="#fcd27e"><circle cx="231" cy="1244" r="2.3"/><circle cx="114" cy="1454" r="2.3"/><circle cx="98" cy="1429" r="2.3"/><circle cx="103" cy="1365" r="2.3"/></g>
<g fill="#a6d16c"><circle cx="272" cy="1425" r="2.3"/><circle cx="272" cy="1443" r="2.3"/><circle cx="271" cy="1442" r="2.3"/><circle cx="270" cy="1440" r="2.3"/><circle cx="313" cy="1446" r="2.3"/><circle cx="310" cy="1453" r="2.3"/><circle cx="298" cy="1455" r="2.3"/><circle cx="318" cy="1459" r="2.3"/><circle cx="321" cy="1459" r="2.3"/><circle cx="368" cy="1472" r="2.3"/><circle cx="276" cy="1480" r="2.3"/><circle cx="386" cy="1422" r="2.3"/><circle cx="422" cy="1486" r="2.3"/></g>
<g fill="#1f9a57"><circle cx="73" cy="1285" r="2.3"/><circle cx="102" cy="1306" r="2.3"/><circle cx="122" cy="1356" r="2.3"/><circle cx="395" cy="1211" r="2.3"/><circle cx="298" cy="1546" r="2.3"/><circle cx="347" cy="1294" r="2.3"/><circle cx="363" cy="1306" r="2.3"/><circle cx="326" cy="1306" r="2.3"/><circle cx="296" cy="1303" r="2.3"/><circle cx="269" cy="1303" r="2.3"/><circle cx="280" cy="1321" r="2.3"/><circle cx="301" cy="1320" r="2.3"/><circle cx="292" cy="1325" r="2.3"/><circle cx="314" cy="1326" r="2.3"/><circle cx="331" cy="1326" r="2.3"/><circle cx="352" cy="1324" r="2.3"/><circle cx="363" cy="1338" r="2.3"/><circle cx="268" cy="1340" r="2.3"/><circle cx="270" cy="1335" r="2.3"/><circle cx="284" cy="1338" r="2.3"/><circle cx="293" cy="1338" r="2.3"/><circle cx="312" cy="1340" r="2.3"/><circle cx="318" cy="1339" r="2.3"/><circle cx="278" cy="1350" r="2.3"/><circle cx="273" cy="1356" r="2.3"/><circle cx="287" cy="1350" r="2.3"/><circle cx="245" cy="1350" r="2.3"/><circle cx="254" cy="1366" r="2.3"/><circle cx="235" cy="1363" r="2.3"/><circle cx="240" cy="1362" r="2.3"/><circle cx="216" cy="1354" r="2.3"/><circle cx="197" cy="1374" r="2.3"/><circle cx="247" cy="1374" r="2.3"/><circle cx="294" cy="1384" r="2.3"/><circle cx="191" cy="1413" r="2.3"/></g>
<text class="r2" x="52" y="1536">R²=0.16099***</text>
<rect class="bx" x="42" y="1195" width="399" height="351"/>
<g class="tc"><line x1="39" y1="1213" x2="42" y2="1213"/><line x1="39" y1="1297" x2="42" y2="1297"/><line x1="39" y1="1382" x2="42" y2="1382"/><line x1="39" y1="1467" x2="42" y2="1467"/><line x1="125" y1="1546" x2="125" y2="1549"/><line x1="224" y1="1546" x2="224" y2="1549"/><line x1="323" y1="1546" x2="323" y2="1549"/></g>
<g class="tk" text-anchor="end"><text x="37" y="1216">0.50</text><text x="37" y="1300">0.25</text><text x="37" y="1385">0.00</text><text x="37" y="1470">−0.25</text></g>
<g class="tk" text-anchor="middle"><text x="125" y="1559">−0.2</text><text x="224" y="1559">0.0</text><text x="323" y="1559">0.2</text></g>

<!-- ================= PANEL H ================= -->
<text class="lab" x="462" y="1199">H</text>
<g>
<line class="gm" x1="571" y1="1195" x2="571" y2="1546"/><line class="gm" x1="660" y1="1195" x2="660" y2="1546"/><line class="gm" x1="748" y1="1195" x2="748" y2="1546"/>
<line class="gm" x1="482" y1="1256" x2="815" y2="1256"/><line class="gm" x1="482" y1="1342" x2="815" y2="1342"/><line class="gm" x1="482" y1="1428" x2="815" y2="1428"/><line class="gm" x1="482" y1="1514" x2="815" y2="1514"/>
<line class="gM" x1="526" y1="1195" x2="526" y2="1546"/><line class="gM" x1="616" y1="1195" x2="616" y2="1546"/><line class="gM" x1="704" y1="1195" x2="704" y2="1546"/><line class="gM" x1="792" y1="1195" x2="792" y2="1546"/>
<line class="gM" x1="482" y1="1214" x2="815" y2="1214"/><line class="gM" x1="482" y1="1299" x2="815" y2="1299"/><line class="gM" x1="482" y1="1385" x2="815" y2="1385"/><line class="gM" x1="482" y1="1471" x2="815" y2="1471"/>
</g>
<g class="hull" fill-opacity="0.1">
<polygon points="634,1296.4 788.7,1376.5 789.8,1409.8 557.5,1477.4 514.9,1455.6 497.4,1335" fill="#f8766d" stroke="#ee6a5f"/>
<polygon points="524.7,1268.6 657,1227.1 764.1,1320.5 691.4,1391.7 601.3,1411 522,1302.4" fill="#00bd5c" stroke="#1eaa4c"/>
<polygon points="656,1401.4 772.3,1433.9 799.7,1496 679.4,1483 595.8,1411" fill="#64b200" stroke="#5aaa2a"/>
<polygon points="527.5,1331.4 639.5,1386.9 612.2,1529.2 533,1386.9" fill="#aea200" stroke="#a99b1c"/>
<polygon points="773.4,1210.7 718.8,1341 651.5,1378.4 624.8,1357.2" fill="#00c1a7" stroke="#14b09c"/>
<polygon points="550.4,1306 563,1343.5 560,1408.6 533,1407.4 508.3,1377.2" fill="#db8e00" stroke="#d68a14"/>
<polygon points="593,1343.5 650.4,1403.8 615,1477.4 533,1421.9 571.2,1372.4" fill="#00bade" stroke="#17b2e2"/>
<polygon points="513.8,1366.4 564.6,1359.1 688.7,1431.5 543.9,1396.5" fill="#00a6ff" stroke="#2a8ad6"/>
<polygon points="574,1379.6 652,1484.1 643.9,1529.2 634,1529.2 565.7,1408.6" fill="#b385ff" stroke="#9476c9"/>
<polygon points="582.1,1389.3 718.8,1411 582,1394" fill="#ff63b6" stroke="#f04fa8" stroke-width="2.6"/>
</g>
<use href="#c2" x="566" y="1385"/><use href="#c2" x="550" y="1393"/>
<g fill="#7cc48a" stroke="#fff" stroke-width="0.7"><circle cx="667" cy="1300" r="2.4"/><circle cx="686" cy="1301" r="2.4"/><circle cx="698" cy="1295" r="2.4"/><circle cx="712" cy="1303" r="2.4"/><circle cx="726" cy="1302" r="2.4"/><circle cx="690" cy="1333" r="2.4"/><circle cx="676" cy="1325" r="2.4"/><circle cx="681" cy="1340" r="2.4"/><circle cx="697" cy="1336" r="2.4"/><circle cx="664" cy="1352" r="2.4"/><circle cx="645" cy="1353" r="2.4"/><circle cx="638" cy="1365" r="2.4"/><circle cx="726" cy="1344" r="2.4"/><circle cx="736" cy="1336" r="2.4"/><circle cx="729" cy="1319" r="2.4"/><circle cx="707" cy="1321" r="2.4"/><circle cx="668" cy="1432" r="2.4"/><circle cx="669" cy="1442" r="2.4"/><circle cx="665" cy="1453" r="2.4"/><circle cx="709" cy="1454" r="2.4"/><circle cx="699" cy="1460" r="2.4"/><circle cx="713" cy="1467" r="2.4"/><circle cx="757" cy="1479" r="2.4"/></g>
<g fill="#f08d86" stroke="#fff" stroke-width="0.7"><circle cx="637" cy="1316" r="2.4"/><circle cx="665" cy="1378" r="2.4"/><circle cx="741" cy="1414" r="2.4"/><circle cx="775" cy="1406" r="2.4"/><circle cx="645" cy="1432" r="2.4"/><circle cx="580" cy="1431" r="2.4"/><circle cx="553" cy="1459" r="2.4"/></g>
<text class="r2" x="493" y="1536">R²=0.21168***</text>
<rect class="bx" x="482" y="1195" width="333" height="351"/>
<g class="tc"><line x1="479" y1="1214" x2="482" y2="1214"/><line x1="479" y1="1299" x2="482" y2="1299"/><line x1="479" y1="1385" x2="482" y2="1385"/><line x1="479" y1="1471" x2="482" y2="1471"/><line x1="526" y1="1546" x2="526" y2="1549"/><line x1="616" y1="1546" x2="616" y2="1549"/><line x1="704" y1="1546" x2="704" y2="1549"/><line x1="792" y1="1546" x2="792" y2="1549"/></g>
<g class="tk" text-anchor="end"><text x="477" y="1217">0.50</text><text x="477" y="1302">0.25</text><text x="477" y="1388">0.00</text><text x="477" y="1474">−0.25</text></g>
<g class="tk" text-anchor="middle"><text x="526" y="1559">−0.2</text><text x="616" y="1559">0.0</text><text x="704" y="1559">0.2</text><text x="792" y="1559">0.4</text></g>
</svg>
</body></html>
